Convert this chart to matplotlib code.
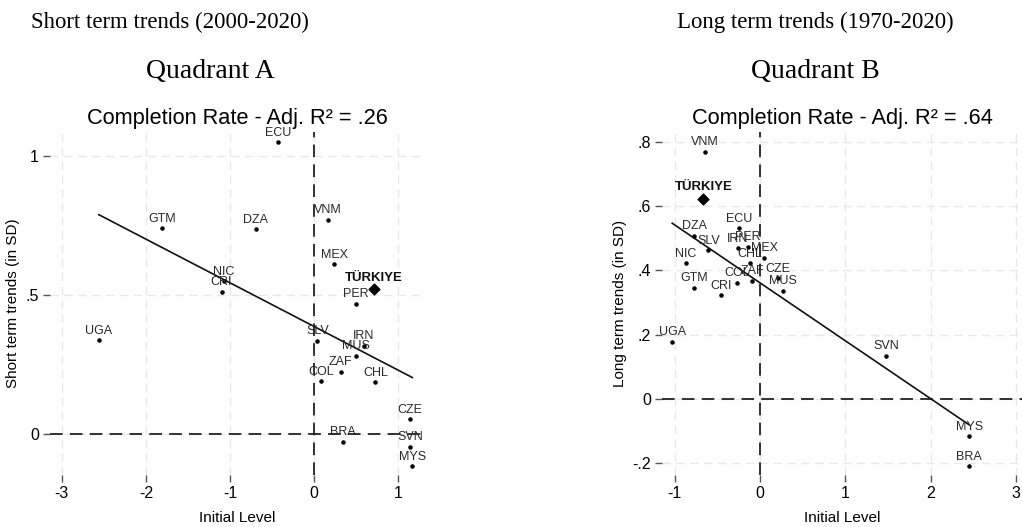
import matplotlib
matplotlib.use("Agg")
import matplotlib.pyplot as plt
import numpy as np

plt.rcParams['font.family'] = ['Liberation Sans', 'DejaVu Sans']

# Short term trends (2000-2020)
short_codes = ["ECU", "GTM", "DZA", "VNM", "MEX", "PER", "NIC", "CRI", "UGA", "SLV",
               "IRN", "MUS", "ZAF", "COL", "CHL", "CZE", "BRA", "SVN", "MYS"]
short_x = [-0.43, -1.81, -0.69, 0.17, 0.24, 0.50, -1.07, -1.10, -2.56, 0.04,
           0.59, 0.50, 0.32, 0.08, 0.73, 1.14, 0.34, 1.14, 1.17]
short_y = [1.05, 0.74, 0.737, 0.77, 0.61, 0.468, 0.55, 0.512, 0.338, 0.336,
           0.318, 0.282, 0.224, 0.19, 0.186, 0.053, -0.028, -0.046, -0.115]
short_tur = (0.71, 0.52)
short_fit = (0.387, -0.157)   # intercept, slope

# Long term trends (1970-2020)
long_codes = ["VNM", "ECU", "DZA", "SLV", "IRN", "PER", "MEX", "CHL", "NIC", "CZE",
              "COL", "ZAF", "MUS", "GTM", "CRI", "UGA", "SVN", "MYS", "BRA"]
long_x = [-0.65, -0.246, -0.774, -0.606, -0.26, -0.145, 0.05, -0.117, -0.868, 0.21,
          -0.27, -0.09, 0.273, -0.77, -0.46, -1.03, 1.474, 2.45, 2.45]
long_y = [0.769, 0.531, 0.507, 0.463, 0.468, 0.473, 0.439, 0.422, 0.422, 0.376,
          0.362, 0.368, 0.337, 0.346, 0.323, 0.178, 0.135, -0.115, -0.208]
long_tur = (-0.665, 0.623)
long_fit = (0.361, -0.180)

W, H = 1022, 527
fig = plt.figure(figsize=(W / 100, H / 100), dpi=100)


def panel(rect, codes, xs, ys, tur, fit, xlim, ylim, xticks, yticks, yticklabels,
          title, ylabel):
    l, r, b, t = rect
    ax = fig.add_axes([l / W, (H - b) / H, (r - l) / W, (b - t) / H])
    ax.set_xlim(*xlim)
    ax.set_ylim(*ylim)
    for s in ax.spines.values():
        s.set_visible(False)
    ax.set_xticks(xticks)
    ax.set_xticklabels([str(v) for v in xticks])
    ax.set_yticks(yticks)
    ax.set_yticklabels(yticklabels)
    ax.tick_params(length=5, width=1, color="#555555", labelsize=11.5, pad=3)
    ax.grid(True, color="#e8e8e8", linestyle=(0, (6, 4)), linewidth=1)
    ax.set_axisbelow(True)

    ax.axhline(0, color="#222222", linestyle=(0, (7, 4)), linewidth=1.3, zorder=2)
    ax.axvline(0, color="#222222", linestyle=(0, (7, 4)), linewidth=1.3, zorder=2)

    xx = np.array([min(xs), max(xs)])
    ax.plot(xx, fit[0] + fit[1] * xx, color="#111111", linewidth=1.2, zorder=3)

    ax.scatter(xs, ys, s=5, color="black", zorder=4)
    for c, x, y in zip(codes, xs, ys):
        ax.annotate(c, (x, y), xytext=(0, 2.5), textcoords="offset points",
                    ha="center", va="bottom", fontsize=9, color="#2a2a2a",
                    annotation_clip=False, zorder=5)
    ax.scatter([tur[0]], [tur[1]], marker="D", s=30, color="black", zorder=4)
    ax.annotate("TÜRKIYE", tur, xytext=(0, 4), textcoords="offset points",
                ha="center", va="bottom", fontsize=9.5, fontweight="bold",
                color="#111111", zorder=5)

    ax.set_title(title, fontsize=15.7, pad=6)
    ax.set_xlabel("Initial Level", fontsize=11, labelpad=7)
    ax.set_ylabel(ylabel, fontsize=11, labelpad=4)
    return ax


panel((50, 425, 475, 132), short_codes, short_x, short_y, short_tur, short_fit,
      (-3.14, 1.32), (-0.147, 1.086), [-3, -2, -1, 0, 1], [0, 0.5, 1],
      ["0", ".5", "1"], "Completion Rate - Adj. R² = .26",
      "Short term trends (in SD)")

panel((662, 1022, 475, 132), long_codes, long_x, long_y, long_tur, long_fit,
      (-1.15, 3.07), (-0.236, 0.83), [-1, 0, 1, 2, 3],
      [-0.2, 0, 0.2, 0.4, 0.6, 0.8], ["-.2", "0", ".2", ".4", ".6", ".8"],
      "Completion Rate - Adj. R² = .64", "Long term trends (in SD)")

serif = ["Liberation Serif", "DejaVu Serif"]
fig.text(170 / W, 1 - 22 / H, "Short term trends (2000-2020)", ha="center",
         va="center", fontsize=16.4, family=serif)
fig.text(210 / W, 1 - 71 / H, "Quadrant A", ha="center", va="center",
         fontsize=20, family=serif)
fig.text(815 / W, 1 - 22 / H, "Long term trends (1970-2020)", ha="center",
         va="center", fontsize=16.4, family=serif)
fig.text(815 / W, 1 - 71 / H, "Quadrant B", ha="center", va="center",
         fontsize=20, family=serif)

fig.savefig("out.png", dpi=100)
